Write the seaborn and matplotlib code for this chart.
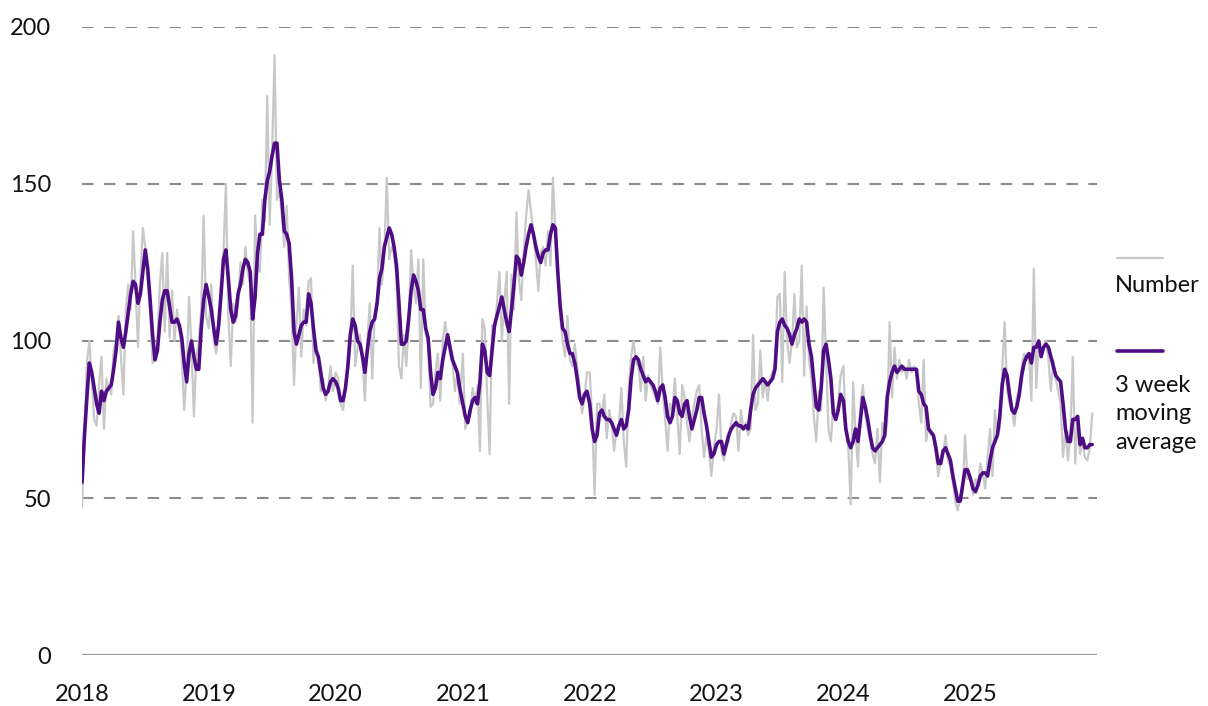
import pandas as pd
import matplotlib.pyplot as plt
import matplotlib.lines as mlines
import matplotlib.dates as mdates
import seaborn as sns

# ── DATA (weekly) ──────────────────────────────────────
number_2018 = [47, 70, 93, 100, 88, 75, 73, 86, 95, 72, 88, 85, 83, 97, 100, 108, 95, 83, 110, 118,
               110, 135, 118, 98, 120, 136, 130, 120, 110, 93, 95, 100, 118, 128, 103, 128, 101, 116, 100, 110,
               105, 95, 78, 90, 114, 98, 76, 95, 100, 110, 140, 108]
number_2019 = [104, 118, 100, 96, 102, 112, 128, 150, 108, 92, 112, 106, 112, 125, 118, 130, 122, 118, 74, 140,
               125, 122, 145, 138, 178, 137, 160, 191, 145, 148, 140, 130, 143, 120, 110, 86, 105, 117, 95, 110,
               105, 119, 120, 93, 100, 95, 84, 88, 81, 85, 92, 84]
number_2020 = [90, 88, 80, 78, 85, 90, 100, 124, 92, 98, 102, 95, 81, 100, 112, 88, 108, 112, 136, 118,
               128, 152, 126, 130, 128, 120, 92, 88, 102, 92, 105, 129, 118, 112, 126, 85, 126, 102, 100, 79,
               80, 90, 96, 81, 100, 106, 100, 96, 93, 84, 90, 80]
number_2021 = [96, 72, 75, 76, 85, 80, 86, 65, 107, 104, 82, 64, 105, 102, 112, 122, 100, 112, 122, 80,
               121, 110, 141, 120, 113, 128, 140, 148, 141, 135, 126, 116, 128, 130, 124, 135, 124, 152, 135, 124,
               108, 100, 95, 108, 94, 92, 99, 92, 85, 77, 82, 90]
number_2022 = [90, 75, 51, 80, 80, 76, 83, 69, 78, 74, 65, 72, 73, 85, 68, 60, 85, 95, 100, 93,
               92, 84, 95, 81, 89, 86, 84, 82, 80, 98, 84, 75, 65, 80, 78, 88, 76, 64, 86, 82,
               74, 68, 76, 80, 84, 86, 72, 63, 70, 65, 57, 66]
number_2023 = [72, 83, 65, 62, 66, 68, 74, 77, 76, 65, 78, 72, 74, 70, 72, 102, 78, 80, 97, 82,
               88, 81, 88, 90, 92, 114, 115, 87, 122, 100, 93, 100, 115, 98, 100, 124, 89, 111, 94, 88,
               76, 68, 84, 78, 117, 95, 72, 68, 80, 76, 80, 89]
number_2024 = [92, 72, 66, 48, 87, 70, 60, 80, 86, 76, 72, 68, 64, 61, 72, 55, 74, 70, 74, 106,
               82, 98, 88, 94, 90, 92, 88, 94, 90, 92, 91, 80, 74, 94, 68, 73, 70, 70, 64, 57,
               62, 64, 70, 62, 60, 55, 49, 46, 50, 52, 70, 56]
number_2025 = [56, 51, 56, 54, 61, 58, 53, 63, 72, 57, 78, 70, 72, 91, 106, 84, 80, 78, 73, 82,
               85, 92, 96, 94, 95, 81, 123, 85, 100, 96, 98, 100, 94, 84, 94, 88, 84, 80, 63, 72,
               62, 70, 95, 61, 76, 64, 68, 63, 62, 66, 77]

avg_2018 = [55, 70, 82, 93, 90, 85, 80, 77, 84, 81, 84, 85, 86, 91, 97, 106, 101, 98, 103, 109,
            115, 119, 118, 112, 115, 122, 129, 123, 113, 102, 94, 97, 106, 113, 116, 116, 111, 106, 106, 107,
            105, 101, 93, 87, 96, 100, 95, 91, 91, 104, 113, 118]
avg_2019 = [114, 110, 104, 99, 105, 115, 126, 129, 120, 110, 106, 108, 115, 118, 123, 126, 125, 122, 107, 114,
            128, 134, 134, 145, 151, 154, 159, 163, 163, 151, 145, 135, 134, 131, 120, 103, 99, 102, 105, 106,
            106, 115, 112, 104, 97, 95, 90, 85, 83, 84, 87, 88]
avg_2020 = [87, 85, 81, 81, 85, 92, 102, 107, 105, 100, 99, 95, 90, 97, 103, 106, 107, 112, 120, 123,
            130, 133, 136, 134, 130, 124, 112, 99, 99, 100, 107, 116, 121, 119, 116, 110, 110, 104, 101, 90,
            83, 85, 90, 88, 94, 98, 102, 98, 94, 92, 90, 85]
avg_2021 = [80, 76, 74, 78, 81, 82, 80, 87, 99, 97, 90, 89, 97, 105, 108, 111, 114, 110, 106, 103,
            110, 118, 127, 126, 121, 125, 130, 134, 137, 134, 130, 127, 125, 128, 129, 129, 134, 137, 136, 122,
            111, 104, 103, 99, 96, 96, 93, 88, 82, 80, 83, 84]
avg_2022 = [80, 72, 68, 70, 77, 78, 76, 75, 75, 74, 72, 70, 73, 75, 72, 73, 78, 88, 94, 95,
            94, 91, 89, 87, 88, 87, 86, 84, 81, 85, 86, 82, 76, 74, 76, 82, 81, 77, 76, 80,
            81, 76, 72, 75, 78, 82, 82, 77, 73, 68, 63, 64]
avg_2023 = [67, 68, 68, 64, 67, 70, 72, 73, 74, 73, 73, 72, 73, 72, 78, 83, 85, 86, 87, 88,
            87, 86, 87, 88, 91, 103, 106, 107, 105, 104, 102, 99, 102, 104, 107, 106, 107, 106, 99, 95,
            87, 79, 78, 85, 97, 99, 94, 88, 77, 75, 78, 83]
avg_2024 = [81, 72, 68, 66, 68, 72, 68, 75, 82, 79, 75, 70, 66, 65, 66, 67, 68, 70, 82, 87,
            90, 92, 90, 91, 92, 91, 91, 91, 91, 91, 91, 84, 83, 80, 79, 72, 71, 70, 66, 61,
            61, 65, 66, 64, 62, 57, 53, 49, 49, 54, 59, 59]
avg_2025 = [56, 53, 52, 54, 57, 58, 58, 57, 62, 66, 68, 70, 76, 86, 91, 89, 83, 78, 77, 79,
            83, 89, 93, 95, 96, 93, 98, 98, 100, 95, 98, 99, 98, 95, 92, 89, 88, 87, 80, 72,
            68, 68, 75, 75, 76, 67, 69, 66, 66, 67, 67]

years = [2018, 2019, 2020, 2021, 2022, 2023, 2024, 2025]
numbers = [number_2018, number_2019, number_2020, number_2021,
           number_2022, number_2023, number_2024, number_2025]
avgs = [avg_2018, avg_2019, avg_2020, avg_2021,
        avg_2022, avg_2023, avg_2024, avg_2025]

frames = []
for yr, num, avg in zip(years, numbers, avgs):
    dates = pd.date_range(f"{yr}-01-01", periods=len(num), freq="7D")
    frames.append(pd.DataFrame({"date": dates, "number": num, "avg": avg}))
df = pd.concat(frames, ignore_index=True)

# ── STYLE ──────────────────────────────────────────────
sns.set_theme(style="white")
plt.rcParams['font.family'] = ['Lato', 'DejaVu Sans']

GREY = "#c8c8c8"
PURPLE = "#4e0d85"
GRID = "#8c8c8c"

fig = plt.figure(figsize=(12.08, 7.06), dpi=100)
ax = fig.add_axes([0.0679, 0.0722, 0.8400, 0.8896])

# dashed gridlines + solid baseline
for v in [50, 100, 150, 200]:
    ax.axhline(v, color=GRID, lw=1.5, dashes=(5.5, 5), zorder=0)
ax.axhline(0, color="#9a9a9a", lw=1.6, zorder=0)

sns.lineplot(data=df, x="date", y="number", color=GREY, lw=1.6, ax=ax)
sns.lineplot(data=df, x="date", y="avg", color=PURPLE, lw=2.6, ax=ax)

ax.set_xlim(pd.Timestamp("2018-01-01"), pd.Timestamp("2025-12-30"))
ax.set_ylim(0, 200)
ax.set_yticks([0, 50, 100, 150, 200])
ax.set_xticks([pd.Timestamp(f"{y}-01-01") for y in years])
ax.xaxis.set_major_formatter(mdates.DateFormatter("%Y"))
ax.tick_params(axis="both", length=0, labelsize=17, labelcolor="#111111")
ax.tick_params(axis="y", pad=22)
ax.tick_params(axis="x", pad=21)
ax.set_xlabel("")
ax.set_ylabel("")
for s in ax.spines.values():
    s.set_visible(False)

# ── LEGEND (handle above label) ────────────────────────
fig.add_artist(mlines.Line2D([1117/1208, 1163/1208], [1 - 258/706, 1 - 258/706],
                             color=GREY, lw=1.6, transform=fig.transFigure))
fig.text(1115/1208, 1 - 285/706, "Number", fontsize=17, va="center", ha="left", color="#111111")
fig.add_artist(mlines.Line2D([1117/1208, 1163/1208], [1 - 351/706, 1 - 351/706],
                             color=PURPLE, lw=2.6, transform=fig.transFigure))
fig.text(1115/1208, 1 - 414/706, "3 week\nmoving\naverage", fontsize=17, va="center", ha="left",
         linespacing=1.45, color="#111111")

plt.savefig("out.png", dpi=100)
